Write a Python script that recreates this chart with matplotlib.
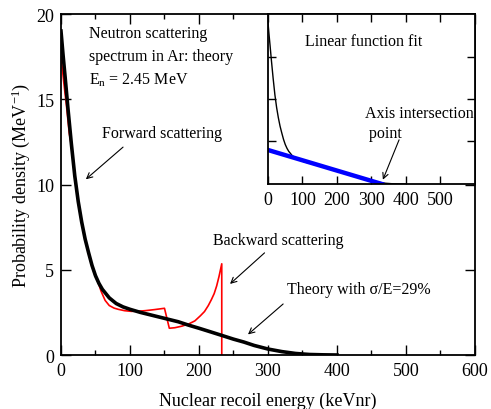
import matplotlib
matplotlib.use('Agg')
import matplotlib.pyplot as plt

plt.rcParams['font.family'] = ['Liberation Serif', 'DejaVu Serif']
plt.rcParams['mathtext.fontset'] = 'custom'
plt.rcParams['mathtext.rm'] = 'Liberation Serif'
plt.rcParams['mathtext.it'] = 'Liberation Serif:italic'
plt.rcParams['xtick.direction'] = 'in'
plt.rcParams['ytick.direction'] = 'in'
plt.rcParams['xtick.top'] = True
plt.rcParams['ytick.right'] = True

# smeared theory (sigma/E = 29%)
smeared_e = [0, 3, 6, 10, 15, 20, 25, 30, 35, 40, 45, 50, 55, 60, 70, 80, 90, 100,
             115, 130, 150, 170, 185, 200, 215, 233, 250, 265, 280, 300, 320, 340,
             360, 380, 400]
smeared_p = [19.0, 17.6, 16.3, 14.5, 12.4, 10.5, 9.0, 7.8, 6.8, 6.0, 5.25, 4.65,
             4.2, 3.85, 3.35, 3.02, 2.82, 2.68, 2.5, 2.35, 2.15, 1.95, 1.75, 1.57,
             1.38, 1.15, 0.93, 0.76, 0.56, 0.35, 0.2, 0.09, 0.03, 0.01, 0.0]

# pure theory spectrum
theory_e = [0, 4, 8, 12, 15, 20, 25, 30, 35, 40, 45, 50, 54, 58, 64, 70, 77, 83,
            92, 102, 112, 122, 135, 150, 157, 165, 175, 185, 194, 202, 208, 213.5,
            218, 222, 225.6, 229, 233, 233]
theory_p = [17.5, 16.0, 14.6, 13.0, 12.3, 10.45, 8.95, 7.75, 6.75, 5.95, 5.2, 4.6,
            4.25, 3.75, 3.2, 2.9, 2.75, 2.68, 2.6, 2.56, 2.57, 2.6, 2.66, 2.74,
            1.57, 1.6, 1.69, 1.82, 2.0, 2.3, 2.55, 2.9, 3.25, 3.6, 4.05, 4.6,
            5.35, 0.0]

# linear fit in the inset
fit_e = [0, 330]
fit_p = [4.0, 0.0]

fig = plt.figure(figsize=(4.91, 4.10), dpi=100)
ax = fig.add_axes([0.1242, 0.1317, 0.8432, 0.8317])
ax.plot(theory_e, theory_p, color='red', lw=1.2, zorder=2)
ax.plot(smeared_e, smeared_p, color='black', lw=2.6, zorder=3)
ax.set_xlim(0, 600)
ax.set_ylim(0, 20)
ax.set_xticks([0, 100, 200, 300, 400, 500, 600])
ax.set_xticks(range(50, 600, 100), minor=True)
ax.set_yticks([0, 5, 10, 15, 20])
ax.tick_params(which='major', length=7, width=1, labelsize=13, pad=5)
ax.tick_params(which='minor', length=3.5, width=1)
for s in ax.spines.values():
    s.set_linewidth(1.3)
ax.set_xlabel('Nuclear recoil energy (keVnr)', fontsize=13, labelpad=9)
ax.set_ylabel('Probability density (MeV$^{-1}$)', fontsize=13, labelpad=3)

ax.text(40, 19.35, 'Neutron scattering\nspectrum in Ar: theory\nE$_\\mathrm{n}$ = 2.45 MeV',
        fontsize=11.5, va='top', ha='left', linespacing=1.55)
arw = dict(arrowstyle='->', color='black', lw=0.8)
ax.text(59, 13.0, 'Forward scattering', fontsize=11.5, ha='left', va='center')
ax.annotate('', xy=(33, 10.2), xytext=(93, 12.3), arrowprops=arw)
ax.text(220, 6.75, 'Backward scattering', fontsize=11.5, ha='left', va='center')
ax.annotate('', xy=(242, 4.06), xytext=(298, 6.1), arrowprops=arw)
ax.text(327, 3.9, 'Theory with σ/E=29%', fontsize=11.5, ha='left', va='center')
ax.annotate('', xy=(268, 1.1), xytext=(325, 3.1), arrowprops=arw)

ins = fig.add_axes([0.5458, 0.5488, 0.4216, 0.4146])
ins.plot(smeared_e, smeared_p, color='black', lw=1.0)
ins.plot(fit_e, fit_p, color='blue', lw=3.2)
ins.set_xlim(0, 600)
ins.set_ylim(0, 20)
ins.set_xticks([0, 100, 200, 300, 400, 500])
ins.set_yticks([5, 10, 15])
ins.set_yticklabels([])
ins.tick_params(length=6, width=1, labelsize=13, pad=5)
for s in ins.spines.values():
    s.set_linewidth(1.3)
ins.text(277, 16.8, 'Linear function fit', fontsize=11.5, ha='center', va='center')
ins.text(280, 7.15, 'Axis intersection\n point', fontsize=11.5, ha='left', va='center',
         linespacing=1.3)
ins.annotate('', xy=(330, 0.2), xytext=(383, 5.5), arrowprops=arw)

fig.savefig('out.png', dpi=100)
